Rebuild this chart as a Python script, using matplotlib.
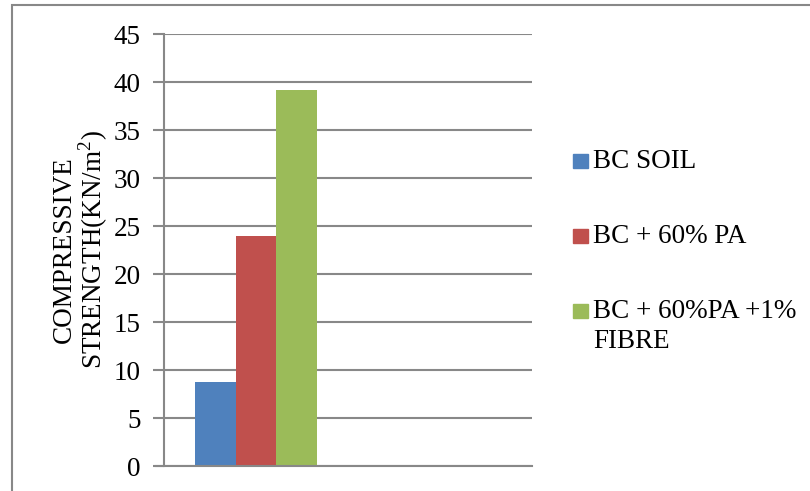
import matplotlib.pyplot as plt
import numpy as np
from matplotlib.patches import Rectangle

plt.rcParams['font.family'] = ['Liberation Serif', 'DejaVu Serif']
plt.rcParams['mathtext.fontset'] = 'custom'
plt.rcParams['mathtext.rm'] = 'Liberation Serif'

# compressive strength per mix (single test group)
series = ['BC SOIL', 'BC + 60% PA', 'BC + 60%PA +1%\nFIBRE']
strength = [8.75, 24.0, 39.2]
colors = ['#4F81BD', '#C0504D', '#9BBB59']
yticks = np.arange(0, 50, 5)

W, H = 810, 491
fs = 19.5
fig = plt.figure(figsize=(W / 100, H / 100), dpi=100)
ax = fig.add_axes([164 / W, 1 - 466 / H, 368 / W, 432 / H])

grid_col = '#888888'
width = 0.221
offsets = [-width, 0, width]
for name, val, col, off in zip(series, strength, colors, offsets):
    ax.bar(0 + off, val, width=width, color=col, label=name, zorder=3)

ax.set_xlim(-0.5, 1.5)
ax.set_ylim(0, 45)
ax.set_yticks(yticks)
ax.set_xticks([])
ax.yaxis.grid(True, color=grid_col, linewidth=1.5, zorder=0)
ax.tick_params(axis='y', length=8, width=1.5, color=grid_col, pad=9, labelsize=fs)
for side in ['top', 'right']:
    ax.spines[side].set_visible(False)
for side in ['left', 'bottom']:
    ax.spines[side].set_color(grid_col)
    ax.spines[side].set_linewidth(1.5)
ax.spines['bottom'].set_bounds(-0.5 - 8 / 184, 1.5)
ax.spines['bottom'].set_zorder(4)

ax.set_ylabel('COMPRESSIVE\nSTRENGTH(KN/m$^2$)', fontsize=fs, labelpad=2,
              linespacing=1.0)

# legend, drawn by hand so the marker sits on the first text line
y0, step, line_step = 161, 75, 30
for i, (name, col) in enumerate(zip(series, colors)):
    yc = y0 + step * i
    fig.patches.append(Rectangle((573 / W, 1 - (yc + 7) / H), 15 / W, 14 / H,
                                 transform=fig.transFigure, color=col))
    for j, line in enumerate(name.split('\n')):
        fig.text(593 / W, 1 - (yc + line_step * j) / H, line, fontsize=fs,
                 ha='left', va='center')

# outer chart frame
fig.patches.append(Rectangle((12 / W, -0.1), 1.2, 1.1 - 5 / H,
                             transform=fig.transFigure, fill=False,
                             edgecolor=grid_col, linewidth=1.5))

fig.savefig('out.png', dpi=100)
